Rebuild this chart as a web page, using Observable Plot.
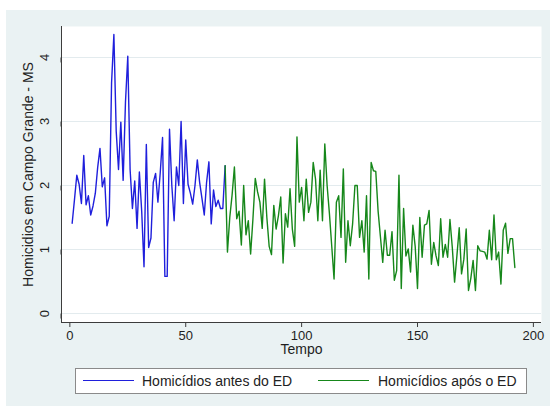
<!DOCTYPE html>
<html>
<head>
<meta charset="utf-8">
<script src="https://cdn.jsdelivr.net/npm/d3@7"></script>
<script src="https://cdn.jsdelivr.net/npm/@observablehq/plot@0.6"></script>
<style>
  html, body { margin: 0; padding: 0; background: #ffffff; }
  #page { position: relative; width: 550px; height: 406px; overflow: hidden;
          font-family: "Liberation Sans", Arial, sans-serif; }
  #bg { position: absolute; left: 6px; top: 10px; right: 0; bottom: 0; background: #eaf2f3; }
  #chart { position: absolute; left: 0; top: 0; }
  #legend { position: absolute; left: 75px; top: 368px; width: 452px; height: 26px;
            box-sizing: border-box; border: 1px solid #8a8a8a; background: #ffffff; }
  .swatch { position: absolute; top: 11px; width: 51px; height: 0; border-top: 1.5px solid; }
  .label { position: absolute; top: 0; line-height: 24px; font-size: 14px; color: #222; white-space: nowrap; }
</style>
</head>
<body>
<div id="page">
  <div id="bg"></div>
  <div id="chart"></div>
  <div id="legend"></div>
</div>
<script>
// Monthly homicide rate, Campo Grande - MS, before and after the ED
const beforeStart = 1;
const beforeValues = [
  1.41, 1.78, 2.16, 2.02, 1.72, 2.47, 1.70, 1.84, 1.54, 1.68,
  1.88, 2.28, 2.58, 1.98, 2.12, 1.37, 1.52, 3.60, 4.36, 2.85,
  2.25, 2.99, 2.08, 3.30, 4.02, 2.25, 1.64, 2.07, 1.33, 2.21,
  1.60, 0.73, 2.64, 1.03, 1.18, 2.05, 2.19, 1.74, 2.20, 2.75,
  0.58, 0.58, 2.88, 2.00, 1.45, 2.29, 2.00, 3.00, 1.72, 2.71,
  2.02, 1.88, 1.71, 2.00, 2.40, 2.05, 1.80, 1.54, 2.05, 2.37,
  1.40, 1.93, 1.67, 1.77, 1.64, 1.64, 2.31
];

const afterStart = 67;
const afterValues = [
  2.31, 0.96, 1.50, 1.85, 2.29, 1.48, 1.60, 1.07, 2.00, 1.23,
  1.45, 0.93, 1.48, 2.11, 1.90, 1.74, 1.33, 2.10, 1.50, 1.05,
  0.92, 1.69, 1.32, 1.53, 1.82, 0.79, 1.56, 1.35, 1.95, 1.32,
  1.05, 2.76, 1.74, 1.97, 1.45, 2.10, 1.58, 1.74, 2.36, 2.10,
  1.45, 2.24, 1.45, 2.65, 2.00, 1.56, 1.05, 0.54, 1.74, 1.84,
  1.19, 2.26, 0.80, 1.45, 1.06, 1.40, 2.00, 2.00, 1.19, 1.45,
  0.96, 1.84, 0.54, 2.36, 2.23, 2.22, 1.60, 1.20, 0.80, 1.30,
  0.91, 0.91, 1.28, 0.52, 0.67, 2.16, 0.39, 1.64, 0.90, 1.01,
  0.65, 1.38, 1.05, 0.39, 1.50, 0.88, 1.38, 1.40, 1.61, 0.77,
  1.11, 0.90, 0.75, 1.48, 0.88, 1.08, 0.88, 1.47, 1.04, 0.49,
  0.90, 1.34, 0.62, 0.85, 1.32, 0.36, 0.55, 0.83, 0.36, 1.06,
  0.98, 0.97, 0.96, 0.85, 1.30, 0.84, 1.54, 0.84, 0.96, 0.46,
  1.30, 1.41, 0.94, 1.17, 1.17, 0.72
];

const xTicks = [0, 50, 100, 150, 200];
const yTicks = [0, 1, 2, 3, 4];
const xDomain = [-3.6, 203.5];
const yDomain = [-0.14, 4.484];

const xTitle = "Tempo";
const yTitle = "Homicidios em Campo Grande - MS";
const seriesNames = ["Homicídios antes do ED", "Homicídios após o ED"];
const seriesColors = ["#1f1fdc", "#16871a"];

const before = beforeValues.map((v, i) => ({t: beforeStart + i, v}));
const after = afterValues.map((v, i) => ({t: afterStart + i, v}));

const axisColor = "#3c3c3c";
const font = "'Liberation Sans', Arial, sans-serif";

const chart = Plot.plot({
  width: 550,
  height: 360,
  marginLeft: 61,
  marginRight: 9,
  marginTop: 26,
  marginBottom: 38,
  style: {background: "transparent", fontFamily: font, fontSize: "13px", color: "#1e1e1e"},
  x: {domain: xDomain},
  y: {domain: yDomain},
  marks: [
    Plot.frame({fill: "white", stroke: "none"}),
    Plot.gridY(yTicks, {stroke: "#e3ebee", strokeOpacity: 1, strokeWidth: 1}),
    Plot.line(before, {x: "t", y: "v", stroke: seriesColors[0], strokeWidth: 1.4}),
    Plot.line(after, {x: "t", y: "v", stroke: seriesColors[1], strokeWidth: 1.4}),
    Plot.ruleX([xDomain[0]], {stroke: axisColor, strokeWidth: 1}),
    Plot.ruleY([yDomain[0]], {stroke: axisColor, strokeWidth: 1}),
    Plot.axisX(xTicks, {tickSize: 5, tickPadding: 3, label: null, stroke: axisColor, fontSize: 13,
                        tickFormat: d => String(d)}),
    Plot.axisY(yTicks, {tickSize: 5, tickPadding: 12, label: null, rotate: -90, textAnchor: "middle",
                        stroke: axisColor, fontSize: 13, tickFormat: d => String(d)}),
    Plot.text([xTitle], {frameAnchor: "bottom", dy: 22, lineAnchor: "top", textAnchor: "middle",
                         fontSize: 14, text: d => d}),
    Plot.text([yTitle], {frameAnchor: "left", dx: -33, rotate: -90, textAnchor: "middle",
                         lineAnchor: "middle", fontSize: 14, text: d => d})
  ]
});
document.getElementById("chart").appendChild(chart);

// Legend box below the plot
const legend = document.getElementById("legend");
const swatchLeft = [7, 242];
const labelLeft = [66, 302];
seriesNames.forEach((name, i) => {
  const sw = document.createElement("div");
  sw.className = "swatch";
  sw.style.left = swatchLeft[i] + "px";
  sw.style.borderTopColor = seriesColors[i];
  legend.appendChild(sw);
  const lb = document.createElement("div");
  lb.className = "label";
  lb.style.left = labelLeft[i] + "px";
  lb.textContent = name;
  legend.appendChild(lb);
});
</script>
</body>
</html>
